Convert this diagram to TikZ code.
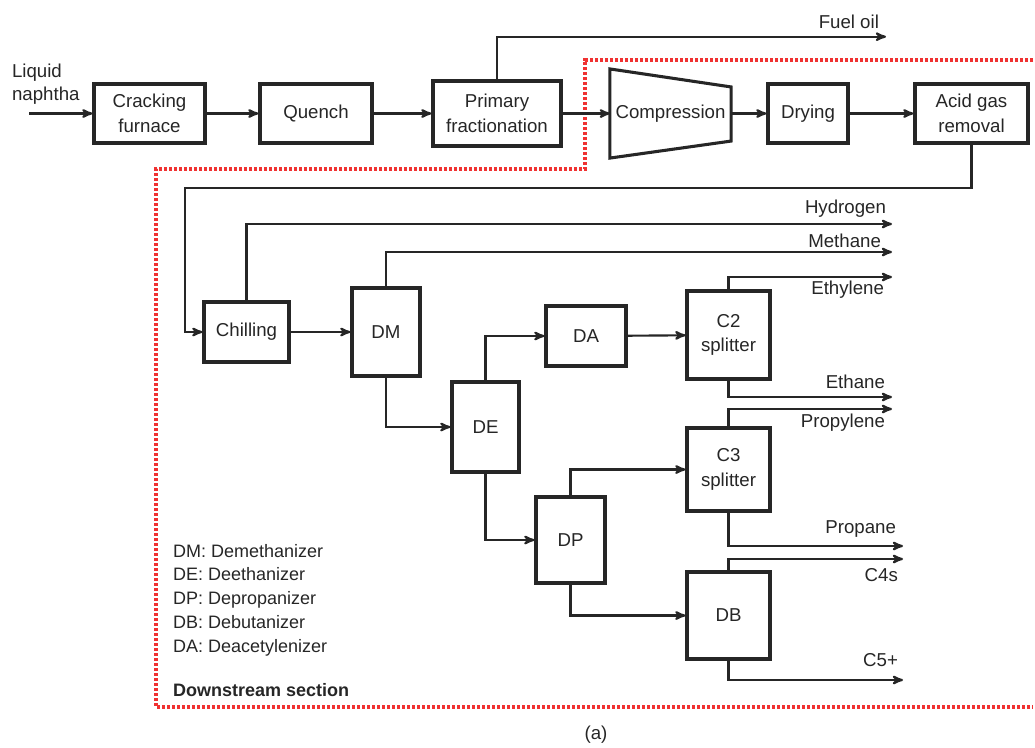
\documentclass[tikz,border=0pt]{standalone}
\usepackage{fontspec}
\setmainfont{Liberation Sans}
\usetikzlibrary{arrows, calc}
\definecolor{ink}{HTML}{262626}
\definecolor{bound}{HTML}{F03232}

\begin{document}
\begin{tikzpicture}[x=0.75pt, y=-0.75pt, ->, >=stealth', line width=1.6pt, draw=ink, text=ink,
    font=\fontsize{14}{18.5}\selectfont]
        \tikzstyle{unit}=[draw=ink, line width=2.3pt, fill=white, align=center, inner sep=1pt]
        \tikzstyle{stream}=[anchor=east, inner sep=0pt]
        \tikzstyle{legend}=[anchor=base west, inner sep=0pt, font=\fontsize{13.5}{17}\selectfont]
        \tikzstyle{boundary}=[-, draw=bound, line width=2.8pt, dash pattern=on 2.3pt off 1.45pt]

        \useasboundingbox (0,0) rectangle (1035,747);

        % downstream section boundary
        \draw[boundary] (1033,60) -- (585,60) -- (585,169) -- (156,169) -- (156,707) -- (1033,707);

        % upstream units
        \node[unit, minimum width=83.25pt, minimum height=44.25pt] at (149.5,113.5) (furnace) {Cracking\\furnace};
        \node[unit, minimum width=84pt, minimum height=44.25pt] at (316,113.5) (quench) {Quench};
        \node[unit, minimum width=96pt, minimum height=48.75pt] at (497,113.5) (primary) {Primary\\fractionation};
        \node[minimum width=89.25pt, minimum height=65.25pt, inner sep=0pt] at (670.5,113.5) (comp) {Compression};
        \draw[-, line width=2.3pt] (comp.north west) -- ($(comp.north east)+(0,18)$)
            -- ($(comp.south east)+(0,-17)$) -- (comp.south west) -- cycle;
        \node[unit, minimum width=60pt, minimum height=44.25pt] at (808,113.5) (drying) {Drying};
        \node[unit, minimum width=84.75pt, minimum height=44.25pt] at (971.5,113.5) (acid) {Acid gas\\removal};

        % downstream units
        \node[unit, minimum width=63.75pt, minimum height=45pt] at (246.5,332) (chill) {Chilling};
        \node[unit, minimum width=51pt, minimum height=66pt] at (386,332) (dm) {DM};
        \node[unit, minimum width=50.25pt, minimum height=67.5pt] at (485.5,427) (de) {DE};
        \node[unit, minimum width=60pt, minimum height=45pt] at (586,336) (da) {DA};
        \node[unit, minimum width=62.25pt, minimum height=66pt] at (728.5,335) (c2) {C2\\splitter};
        \node[unit, minimum width=62.25pt, minimum height=62.25pt] at (728.5,469.5) (c3) {C3\\splitter};
        \node[unit, minimum width=51.75pt, minimum height=64.5pt] at (570.5,540) (dp) {DP};
        \node[unit, minimum width=62.25pt, minimum height=65.25pt] at (728.5,615.5) (db) {DB};

        % free ends
        \coordinate (feed) at (29,113.5);
        \coordinate (fueloil) at (886,36.7);
        \coordinate (turn) at (185,188);
        \coordinate (hydrogen) at (892,224);
        \coordinate (methane) at (892,252);
        \coordinate (ethylene) at (892,277);
        \coordinate (ethane) at (892,397);
        \coordinate (propylene) at (892,409);
        \coordinate (propane) at (903,546);
        \coordinate (c4s) at (903,559);
        \coordinate (c5plus) at (903,680);

        % main train
        \draw (feed) -- (furnace);
        \draw (furnace) -- (quench);
        \draw (quench) -- (primary);
        \draw (primary) -- (comp.west);
        \draw (comp.east) -- (drying);
        \draw (drying) -- (acid);
        \draw (primary.north) |- (fueloil);
        \draw (acid.south) |- (turn) |- (chill.west);
        \draw (chill) -- (dm);
        \draw (chill.north) |- (hydrogen);
        \draw (dm.north) |- (methane);
        \draw (dm.south) |- (de.west);
        \draw (de.north) |- (da.west);
        \draw (da) -- (c2);
        \draw (c2.north) |- (ethylene);
        \draw (c2.south) |- (ethane);
        \draw (de.south) |- (dp.west);
        \draw (dp.north) |- (c3.west);
        \draw (dp.south) |- (db.west);
        \draw (c3.north) |- (propylene);
        \draw (c3.south) |- (propane);
        \draw (db.north) |- (c4s);
        \draw (db.south) |- (c5plus);

        % stream labels
        \node[anchor=west, align=left, inner sep=0pt, font=\fontsize{14}{17.25}\selectfont] at (11,84.5) (naphtha) {Liquid\\naphtha};
        \node[stream] at (880,22) (lfuel) {Fuel oil};
        \node[stream] at (887,209) (lhyd) {Hydrogen};
        \node[stream] at (882,241) (lmeth) {Methane};
        \node[stream] at (885,290) (leth) {Ethylene};
        \node[stream] at (886,382) (lethane) {Ethane};
        \node[stream] at (886,423) (lprop) {Propylene};
        \node[stream] at (897,529) (lpropane) {Propane};
        \node[stream] at (899,575) (lc4) {C4s};
        \node[stream] at (899,660) (lc5) {C5+};

        % legend
        \foreach \abbr/\full [count=\i] in {DM/Demethanizer, DE/Deethanizer, DP/Depropanizer, DB/Debutanizer, DA/Deacetylenizer}
            \node[legend] at (172,533.25+23.75*\i) (leg\i) {\abbr: \full};
        \node[legend, font=\fontsize{13.5}{17}\selectfont\bfseries] at (172,696) (section) {Downstream section};

        \node at (596,735) (caption) {(a)};
\end{tikzpicture}
\end{document}
